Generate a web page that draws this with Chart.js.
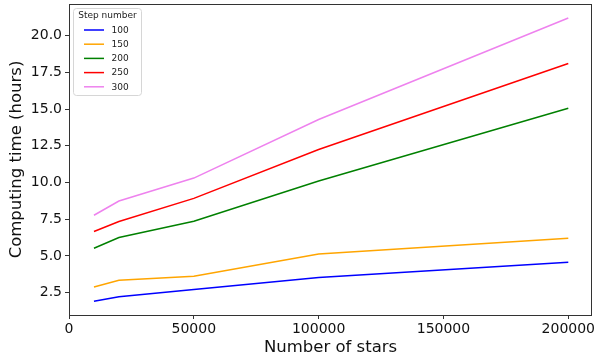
<!DOCTYPE html>
<html>
<head>
<meta charset="utf-8">
<script src="https://cdn.jsdelivr.net/npm/chart.js@4.4.1/dist/chart.umd.min.js"></script>
<style>
html,body{margin:0;padding:0;background:#fff;}
canvas{display:block;}
</style>
</head>
<body>
<canvas id="c" width="597" height="360"></canvas>
<script>
// Data
const starCounts = [10000, 20000, 50000, 100000, 200000];
const stepLabels = ["100", "150", "200", "250", "300"];
const time100 = [1.92, 2.22, 2.72, 3.53, 4.57];
const time150 = [2.89, 3.35, 3.62, 5.14, 6.20];
const time200 = [5.52, 6.25, 7.36, 10.10, 15.06];
const time250 = [6.66, 7.34, 8.92, 12.25, 18.10];
const time300 = [7.77, 8.74, 10.30, 14.29, 21.20];
const xTicks = [0, 50000, 100000, 150000, 200000];
const yTicks = [2.5, 5.0, 7.5, 10.0, 12.5, 15.0, 17.5, 20.0];

const colors = ["#0000ff", "#ffa500", "#008000", "#ff0000", "#ee82ee"];
const series = [time100, time150, time200, time250, time300];

const datasets = series.map((vals, i) => ({
  label: stepLabels[i],
  data: starCounts.map((x, j) => ({x: x, y: vals[j]})),
  borderColor: colors[i],
  backgroundColor: colors[i],
  borderWidth: 1.5,
  pointRadius: 0,
  tension: 0,
  fill: false
}));

const FONT = "'DejaVu Sans', sans-serif";

const framePlugin = {
  id: 'frame',
  afterDatasetsDraw(chart) {
    const {ctx, chartArea: a} = chart;
    ctx.save();
    ctx.strokeStyle = '#333';
    ctx.lineWidth = 1;
    ctx.strokeRect(Math.round(a.left) + 0.5, Math.round(a.top) + 0.5,
                   Math.round(a.right - a.left) - 1, Math.round(a.bottom - a.top));
    // legend
    const bx = 73.5, by = 8.5, bw = 68, bh = 87, r = 3;
    ctx.fillStyle = 'rgba(255,255,255,0.8)';
    ctx.strokeStyle = '#d6d6d6';
    ctx.lineWidth = 1;
    ctx.beginPath();
    ctx.moveTo(bx + r, by);
    ctx.lineTo(bx + bw - r, by);
    ctx.arcTo(bx + bw, by, bx + bw, by + r, r);
    ctx.lineTo(bx + bw, by + bh - r);
    ctx.arcTo(bx + bw, by + bh, bx + bw - r, by + bh, r);
    ctx.lineTo(bx + r, by + bh);
    ctx.arcTo(bx, by + bh, bx, by + bh - r, r);
    ctx.lineTo(bx, by + r);
    ctx.arcTo(bx, by, bx + r, by, r);
    ctx.closePath();
    ctx.fill();
    ctx.stroke();
    ctx.fillStyle = '#222';
    ctx.font = "9px " + FONT;
    ctx.textBaseline = 'middle';
    ctx.textAlign = 'center';
    ctx.fillText('Step number', bx + bw / 2, 16);
    ctx.textAlign = 'left';
    chart.data.datasets.forEach((ds, i) => {
      const y = 30 + i * 14.2;
      ctx.strokeStyle = ds.borderColor;
      ctx.lineWidth = 1.5;
      ctx.beginPath();
      ctx.moveTo(84, y);
      ctx.lineTo(104, y);
      ctx.stroke();
      ctx.fillStyle = '#222';
      ctx.fillText(ds.label, 111.5, y + 0.5);
    });
    ctx.restore();
  }
};

new Chart(document.getElementById('c'), {
  type: 'line',
  data: {datasets: datasets},
  options: {
    responsive: false,
    animation: false,
    layout: {padding: {top: 4, right: 5, left: 0, bottom: 0}},
    plugins: {legend: {display: false}, tooltip: {enabled: false}},
    scales: {
      x: {
        type: 'linear',
        min: 0,
        max: 209500,
        afterFit(s) { s.height = 45; s.paddingLeft = 0; s.paddingRight = 0; },
        afterBuildTicks(s) { s.ticks = xTicks.map(v => ({value: v})); },
        border: {display: false},
        grid: {drawOnChartArea: false, drawTicks: true, tickLength: 4, tickColor: '#333', tickWidth: 1},
        ticks: {
          padding: 2,
          color: '#111',
          font: {family: FONT, size: 14},
          maxRotation: 0,
          autoSkip: false,
          callback: v => String(v)
        },
        title: {
          display: true,
          text: 'Number of stars',
          color: '#111',
          font: {family: FONT, size: 16.5},
          padding: {top: 0, bottom: 2}
        }
      },
      y: {
        type: 'linear',
        min: 0.98,
        max: 22.15,
        afterFit(s) { s.width = 69; s.paddingTop = 0; s.paddingBottom = 0; },
        afterBuildTicks(s) { s.ticks = yTicks.map(v => ({value: v})); },
        border: {display: false},
        grid: {drawOnChartArea: false, drawTicks: true, tickLength: 4, tickColor: '#333', tickWidth: 1},
        ticks: {
          padding: 3,
          color: '#111',
          font: {family: FONT, size: 14},
          autoSkip: false,
          callback: v => v.toFixed(1)
        },
        title: {
          display: true,
          text: 'Computing time (hours)',
          color: '#111',
          font: {family: FONT, size: 16.5},
          padding: {top: 7, bottom: 0}
        }
      }
    }
  },
  plugins: [framePlugin]
});
</script>
</body>
</html>
